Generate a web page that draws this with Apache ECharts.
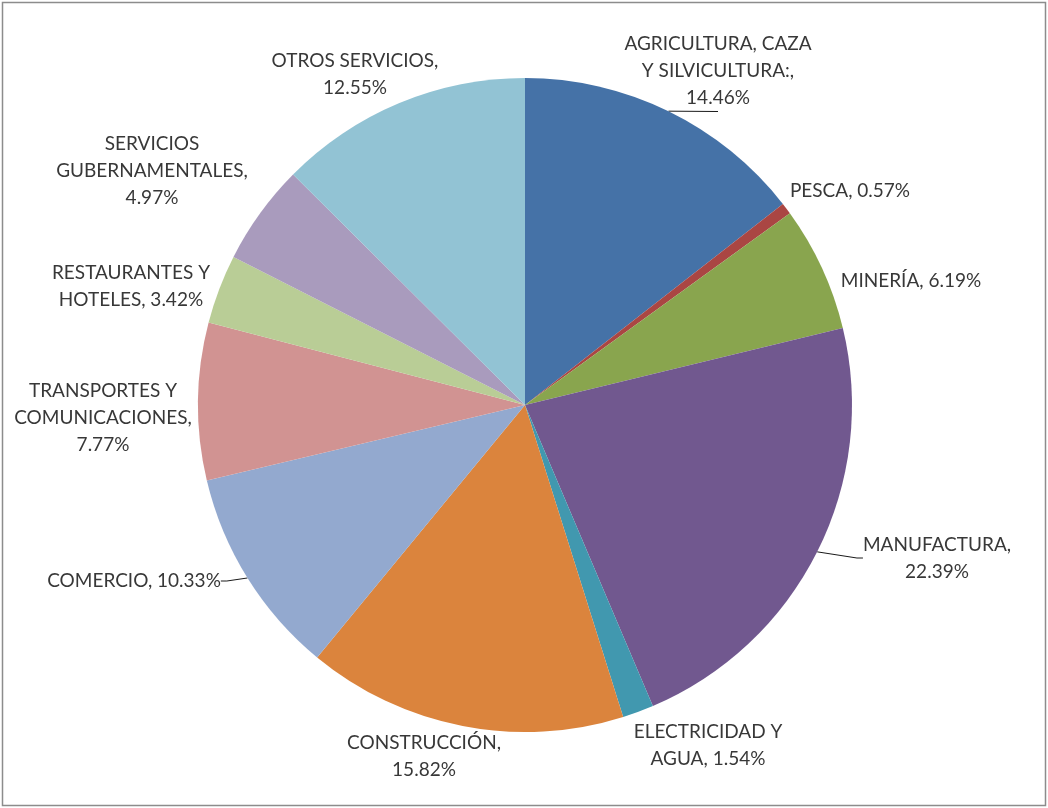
<!DOCTYPE html>
<html>
<head>
<meta charset="utf-8">
<script src="https://cdn.jsdelivr.net/npm/echarts@6/dist/echarts.min.js"></script>
<style>
  html, body { margin: 0; padding: 0; background: #fff; }
  #chart { width: 1048px; height: 808px; }
</style>
</head>
<body>
<div id="chart"></div>
<script>
// Sector shares of GDP (percent)
const categories = [
  'AGRICULTURA, CAZA Y SILVICULTURA:',
  'PESCA',
  'MINERÍA',
  'MANUFACTURA',
  'ELECTRICIDAD Y AGUA',
  'CONSTRUCCIÓN',
  'COMERCIO',
  'TRANSPORTES Y COMUNICACIONES',
  'RESTAURANTES Y HOTELES',
  'SERVICIOS GUBERNAMENTALES',
  'OTROS SERVICIOS'
];
const shares = [14.46, 0.57, 6.19, 22.39, 1.54, 15.82, 10.33, 7.77, 3.42, 4.97, 12.55];

// Slice colours
const palette = ['#4572A7', '#AA4643', '#89A54E', '#71588F', '#4198AF', '#DB843D',
                 '#93A9CF', '#D19392', '#B9CD96', '#A99BBD', '#92C3D4'];

// Label layout: wrap width (characters), centre of the text block, and leader line flag
const wrapChars = [18, 20, 20, 13, 14, 13, 20, 15, 14, 16, 16];
const labelSpots = [
  [718, 71], [850, 191], [911, 281], [937, 558], [708, 745], [424, 756],
  [134, 581], [103, 418], [131, 286], [152, 171], [355, 74]
];
const showLeader = [true, false, false, true, false, false, true, false, false, false, false];

function wrapText(text, limit) {
  const words = text.split(' ');
  const lines = [];
  let cur = '';
  words.forEach(w => {
    if (cur === '') cur = w;
    else if ((cur + ' ' + w).length <= limit) cur += ' ' + w;
    else { lines.push(cur); cur = w; }
  });
  if (cur) lines.push(cur);
  return lines.join('\n');
}

const chart = echarts.init(document.getElementById('chart'), null, { renderer: 'canvas' });

chart.setOption({
  backgroundColor: '#ffffff',
  animation: false,
  graphic: [{
    type: 'rect',
    shape: { x: 2.5, y: 2.5, width: 1043, height: 803 },
    style: { fill: 'none', stroke: '#8c8c8c', lineWidth: 1.5 },
    silent: true
  }],
  series: [{
    type: 'pie',
    center: [525, 405],
    radius: [0, 327],
    startAngle: 90,
    clockwise: true,
    avoidLabelOverlap: false,
    itemStyle: { borderWidth: 0 },
    label: {
      show: true,
      position: 'outside',
      color: '#383838',
      fontFamily: 'Lato, "Open Sans", sans-serif',
      fontSize: 19,
      lineHeight: 27,
      align: 'center',
      formatter: p => wrapText(p.name + ', ' + p.value.toFixed(2) + '%', wrapChars[p.dataIndex])
    },
    labelLine: {
      show: true,
      length: 6,
      length2: 6,
      lineStyle: { color: '#1a1a1a', width: 1 }
    },
    labelLayout: p => ({
      x: labelSpots[p.dataIndex][0],
      y: labelSpots[p.dataIndex][1],
      align: 'center',
      verticalAlign: 'middle'
    }),
    data: categories.map((name, i) => ({
      name: name,
      value: shares[i],
      itemStyle: { color: palette[i] },
      labelLine: { show: showLeader[i] }
    }))
  }]
});
</script>
</body>
</html>
